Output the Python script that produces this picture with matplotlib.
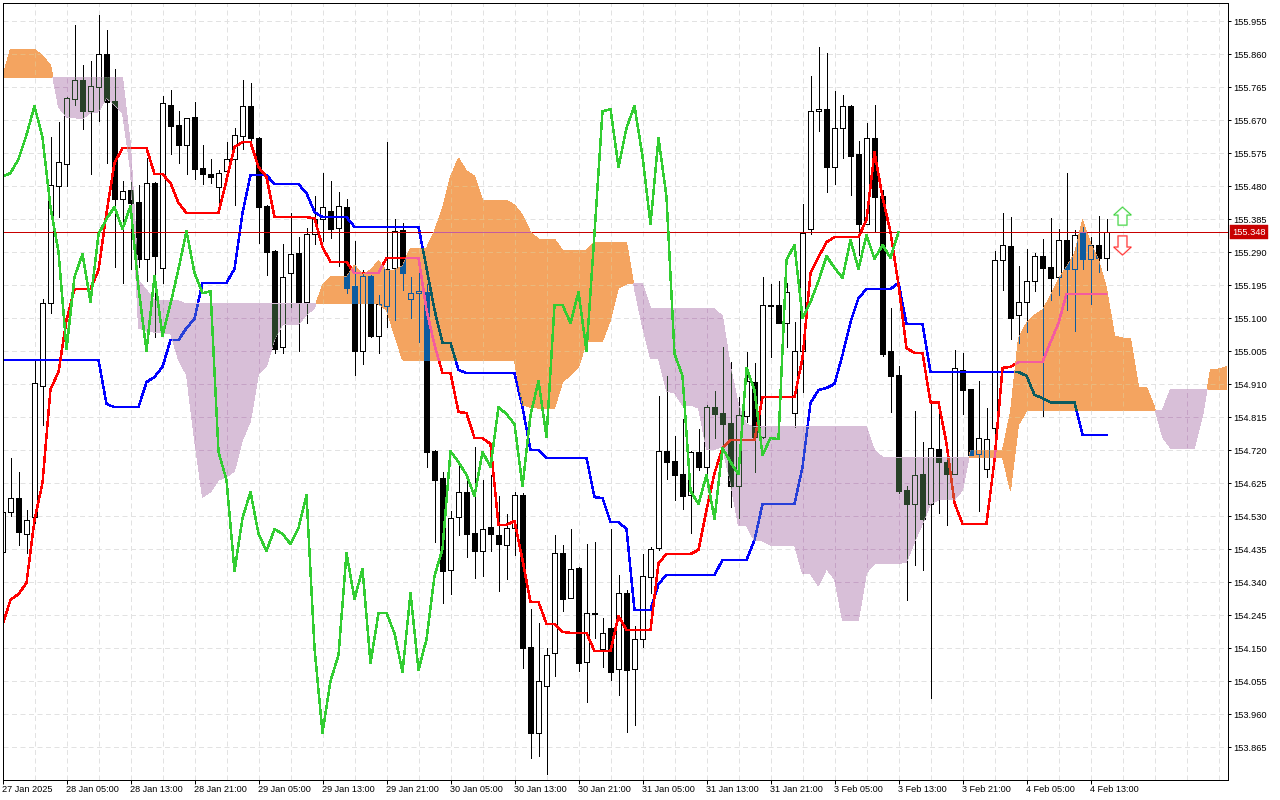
import numpy as np
import matplotlib
matplotlib.use("Agg")
import matplotlib.pyplot as plt
from matplotlib.colors import to_rgb
from matplotlib.path import Path
from matplotlib.patches import Polygon

open_ = [
154.427,154.542,154.582,154.479,154.528,154.905,155.144,155.481,155.544,155.731,
155.786,155.696,155.765,155.860,155.725,155.443,155.469,155.435,155.271,155.489,
155.245,155.714,155.657,155.599,155.680,155.533,155.515,155.478,155.524,155.558,
155.625,155.711,155.619,155.423,155.294,155.017,155.230,155.288,155.147,155.342,
155.386,155.409,155.360,155.420,155.193,155.006,155.222,155.049,155.135,155.245,
155.354,155.155,155.172,155.175,154.717,154.640,154.375,154.528,154.600,154.482,
154.430,154.499,154.476,154.447,154.496,154.591,154.153,153.906,154.041,154.136,
154.424,154.295,154.381,154.110,154.248,154.148,154.208,154.090,154.309,154.090,
154.176,154.355,154.439,154.717,154.689,154.651,154.591,154.715,154.672,154.844,
154.827,154.798,154.617,154.818,154.916,154.758,155.135,155.138,155.086,154.827,
155.006,155.357,155.696,155.702,155.535,155.648,155.711,155.573,155.371,155.619,
155.452,155.006,154.937,154.605,154.565,154.651,154.565,154.723,154.686,154.651,
154.951,154.896,154.709,154.666,154.784,155.268,155.308,155.109,155.147,155.207,
155.279,155.248,155.219,155.325,155.242,155.345,155.271,155.311,155.274]
high = [
154.563,154.697,154.657,154.548,154.980,155.155,155.622,155.665,155.737,155.944,
155.829,155.840,155.973,155.930,155.817,155.495,155.492,155.484,155.561,155.492,
155.740,155.757,155.696,155.677,155.722,155.599,155.558,155.527,155.607,155.648,
155.786,155.777,155.622,155.426,155.296,155.314,155.403,155.334,155.360,155.452,
155.518,155.495,155.463,155.443,155.322,155.239,155.225,155.167,155.607,155.386,
155.374,155.219,155.233,155.199,154.720,154.657,154.545,154.677,154.634,154.729,
154.634,154.648,154.589,154.536,154.600,154.597,154.263,154.222,154.150,154.476,
154.447,154.493,154.384,154.450,154.456,154.237,154.493,154.360,154.317,154.214,
154.421,154.441,154.876,154.934,154.761,154.810,154.717,154.781,154.850,154.890,
155.017,154.974,154.873,155.003,154.971,155.219,155.199,155.207,155.202,155.089,
155.429,155.797,155.881,155.863,155.754,155.743,155.714,155.610,155.662,155.714,
155.469,155.129,154.963,154.617,154.833,154.744,154.859,154.842,154.715,155.008,
155.000,154.896,154.919,154.842,155.293,155.403,155.391,155.250,155.299,155.288,
155.328,155.389,155.357,155.518,155.354,155.363,155.334,155.394,155.386]
low = [
154.424,154.531,154.447,154.424,154.510,154.793,155.115,155.391,155.481,155.714,
155.645,155.515,155.668,155.547,155.248,155.202,155.242,155.248,155.207,155.046,
155.202,155.573,155.547,155.515,155.501,155.487,155.489,155.432,155.501,155.426,
155.587,155.590,155.316,155.224,155.000,155.000,155.132,155.006,155.086,155.314,
155.322,155.331,155.250,155.172,154.937,154.968,155.046,155.000,155.075,155.095,
155.181,155.101,155.031,154.672,154.456,154.280,154.306,154.476,154.413,154.352,
154.358,154.430,154.314,154.349,154.418,154.093,153.834,153.840,153.788,154.070,
154.257,154.295,154.084,153.995,154.179,154.096,154.058,154.016,153.909,153.929,
154.153,154.309,154.433,154.637,154.577,154.551,154.482,154.663,154.626,154.755,
154.720,154.557,154.525,154.801,154.657,154.755,154.988,155.086,155.017,154.787,
154.887,155.342,155.639,155.463,155.487,155.561,155.455,155.282,155.371,155.348,
154.991,154.830,154.597,154.289,154.390,154.375,154.007,154.539,154.505,154.651,
154.824,154.706,154.545,154.643,154.755,155.181,155.040,155.028,155.060,155.178,
154.818,155.152,155.167,155.124,155.063,155.242,155.141,155.233,155.239]
close = [
154.542,154.582,154.484,154.519,154.913,155.144,155.484,155.549,155.734,155.786,
155.696,155.768,155.860,155.722,155.443,155.466,155.432,155.271,155.489,155.279,
155.720,155.654,155.599,155.677,155.530,155.515,155.507,155.518,155.558,155.628,
155.711,155.619,155.420,155.291,155.011,155.219,155.285,155.147,155.342,155.386,
155.420,155.357,155.423,155.187,155.006,155.222,155.049,155.141,155.242,155.351,
155.230,155.172,155.178,154.715,154.634,154.372,154.525,154.600,154.479,154.430,
154.493,154.479,154.450,154.496,154.591,154.150,153.906,154.056,154.130,154.424,
154.292,154.378,154.107,154.251,154.251,154.193,154.081,154.309,154.087,154.176,
154.358,154.436,154.717,154.686,154.649,154.588,154.715,154.672,154.844,154.824,
154.795,154.617,154.821,154.919,154.758,155.138,155.138,155.086,155.175,155.006,
155.345,155.696,155.702,155.535,155.648,155.711,155.567,155.371,155.619,155.449,
154.997,154.934,154.603,154.565,154.649,154.522,154.726,154.686,154.651,154.957,
154.893,154.706,154.755,154.752,155.268,155.311,155.101,155.147,155.207,155.279,
155.245,155.216,155.325,155.242,155.340,155.271,155.311,155.274,155.348]
tenkan = [
154.217,154.289,154.306,154.338,154.519,154.626,154.896,154.945,155.095,155.184,
155.184,155.184,155.239,155.403,155.547,155.590,155.590,155.590,155.590,155.515,
155.515,155.489,155.432,155.403,155.403,155.403,155.403,155.403,155.498,155.593,
155.607,155.607,155.535,155.507,155.391,155.391,155.391,155.391,155.391,155.388,
155.305,155.262,155.262,155.262,155.230,155.230,155.230,155.230,155.274,155.274,
155.274,155.274,155.274,155.124,155.023,154.942,154.942,154.830,154.827,154.755,
154.755,154.738,154.505,154.505,154.516,154.404,154.283,154.283,154.220,154.220,
154.197,154.194,154.194,154.194,154.142,154.142,154.142,154.243,154.202,154.202,
154.202,154.202,154.395,154.421,154.421,154.421,154.421,154.433,154.548,154.654,
154.726,154.749,154.749,154.749,154.749,154.873,154.873,154.873,154.873,154.873,
154.985,155.230,155.276,155.319,155.334,155.334,155.334,155.334,155.383,155.578,
155.449,155.348,155.196,155.014,155.000,155.000,154.858,154.858,154.740,154.568,
154.508,154.508,154.508,154.508,154.692,154.957,154.960,154.974,154.974,154.974,
154.974,155.031,155.086,155.170,155.170,155.170,155.170,155.170,155.170]
kijun = [
154.980,154.980,154.980,154.980,154.980,154.980,154.980,154.980,154.980,154.980,
154.980,154.980,154.980,154.853,154.844,154.844,154.844,154.844,154.916,154.931,
154.960,155.037,155.037,155.072,155.098,155.202,155.202,155.202,155.202,155.242,
155.403,155.512,155.512,155.512,155.486,155.486,155.486,155.486,155.460,155.406,
155.391,155.391,155.391,155.391,155.363,155.363,155.363,155.363,155.363,155.363,
155.363,155.363,155.363,155.245,155.124,155.029,155.029,154.951,154.942,154.942,
154.942,154.942,154.942,154.942,154.942,154.844,154.720,154.720,154.698,154.698,
154.698,154.698,154.698,154.698,154.585,154.582,154.513,154.513,154.493,154.260,
154.260,154.260,154.335,154.361,154.361,154.361,154.361,154.361,154.361,154.361,
154.404,154.404,154.404,154.404,154.461,154.565,154.565,154.565,154.565,154.565,
154.672,154.856,154.893,154.899,154.911,154.994,155.089,155.158,155.184,155.184,
155.184,155.184,155.202,155.083,155.083,155.083,154.945,154.945,154.945,154.945,
154.945,154.945,154.945,154.945,154.945,154.945,154.945,154.945,154.934,154.879,
154.870,154.858,154.858,154.858,154.858,154.764,154.764,154.764,154.764]
chikou = [
155.507,155.518,155.558,155.628,155.711,155.619,155.420,155.291,155.011,155.219,
155.285,155.147,155.342,155.386,155.420,155.357,155.423,155.187,155.006,155.222,
155.049,155.141,155.242,155.351,155.230,155.172,155.178,154.715,154.634,154.372,
154.525,154.600,154.479,154.430,154.493,154.479,154.450,154.496,154.591,154.150,
153.906,154.056,154.130,154.424,154.292,154.378,154.107,154.251,154.251,154.193,
154.081,154.309,154.087,154.176,154.358,154.436,154.717,154.686,154.649,154.588,
154.715,154.672,154.844,154.824,154.795,154.617,154.821,154.919,154.758,155.138,
155.138,155.086,155.175,155.006,155.345,155.696,155.702,155.535,155.648,155.711,
155.567,155.371,155.619,155.449,154.997,154.934,154.603,154.565,154.649,154.522,
154.726,154.686,154.651,154.957,154.893,154.706,154.755,154.752,155.268,155.311,
155.101,155.147,155.207,155.279,155.245,155.216,155.325,155.242,155.340,155.271,
155.311,155.274,155.348]
span_a = [
155.794,155.875,155.875,155.875,155.875,155.855,155.829,155.708,155.679,155.677,
155.674,155.691,155.694,155.734,155.714,155.691,155.527,155.072,155.063,155.060,
155.057,155.057,154.980,154.937,154.749,154.585,
154.600,154.634,154.643,154.660,154.749,154.804,154.939,154.962,155.037,155.083,
155.083,155.083,155.109,155.129,155.196,155.219,155.219,155.219,155.253,155.225,
155.239,155.265,155.236,155.239,155.250,155.302,155.302,155.302,155.351,155.417,
155.507,155.561,155.524,155.509,155.440,155.440,155.440,155.440,155.426,155.397,
155.348,155.328,155.328,155.328,155.296,155.296,155.296,155.296,155.319,155.319,
155.319,155.319,155.319,155.184,155.075,154.985,154.985,154.890,154.885,154.850,
154.850,154.841,154.723,154.723,154.729,154.626,154.502,154.502,154.459,154.459,
154.447,154.447,154.447,154.447,154.364,154.364,154.329,154.378,154.349,154.231,
154.231,154.231,154.367,154.393,154.393,154.393,154.393,154.398,154.456,154.508,
154.565,154.577,154.577,154.577,154.605,154.720,154.720,154.720,154.720,154.720,
154.830,155.043,155.086,155.109,155.124,155.164,155.213,155.248,155.285,155.383,
155.316,155.268,155.187,155.049,155.043,155.043,154.902,154.902,154.844,154.758,
154.726,154.726,154.726,154.726,154.818,154.951,154.954,154.960]
span_b = (
[155.794]*16 + [155.599,155.210,155.181,155.152,155.152,155.152,155.150] + [155.141]*25
+ [155.124,155.052,154.980] + [154.977]*14
+ [154.850,154.844,154.841,154.841,154.841,154.916,154.937,154.960,155.031,155.034,155.034,
   155.095,155.187,155.199,155.199,155.199,155.129] + [155.127]*8
+ [155.106,154.960,154.850,154.795] + [154.787]*15 + [154.720,154.700] + [154.698]*15
+ [154.605,154.793] + [154.833]*17 + [154.836] + [154.896]*8)

price_ticks = [153.865,153.960,154.055,154.150,154.245,154.340,154.435,154.530,154.625,154.720,
               154.815,154.910,155.005,155.100,155.195,155.290,155.385,155.480,155.575,155.670,
               155.765,155.860,155.955]
time_labels = ["27 Jan 2025","28 Jan 05:00","28 Jan 13:00","28 Jan 21:00","29 Jan 05:00","29 Jan 13:00",
               "29 Jan 21:00","30 Jan 05:00","30 Jan 13:00","30 Jan 21:00","31 Jan 05:00","31 Jan 13:00",
               "31 Jan 21:00","3 Feb 05:00","3 Feb 13:00","3 Feb 21:00","4 Feb 05:00","4 Feb 13:00"]
last_price = 155.348

plt.rcParams['font.family'] = ['Liberation Sans', 'DejaVu Sans']
W, H = 1280, 800
fig = plt.figure(figsize=(W/100, H/100), dpi=100, facecolor='white')
ax = fig.add_axes([2.5/W, (H-779.5)/H, 1225/W, 777/H])
PX = 0.72
LINE = 1.05
bar_x = np.arange(len(close))
cloud_x = np.arange(len(span_a))
o, h, l, c = map(np.array, (open_, high, low, close))
A, B = np.array(span_a), np.array(span_b)
ax.set_xlim(0, 1225/8)
ax.set_ylim(153.772, 156.009)

ORANGE, THISTLE = '#F4A460', '#D8BFD8'
GRID, PRICE_RED = '#E2E2E2', '#C80000'
grid_v = np.arange(4, 153, 4)

def identity(col):
    return to_rgb(col)

def xor_with(cloud):
    inv = [255 - round(v*255) for v in to_rgb(cloud)]
    def f(col):
        return tuple((round(v*255) ^ i)/255 for v, i in zip(to_rgb(col), inv))
    return f

def layer(mod, z, clip=None):
    arts = []
    dash = (0, (5, 3.5))
    arts.append(ax.hlines(price_ticks, 0, 1225/8, colors=[mod(GRID)], linewidth=PX, linestyles=[dash], zorder=z))
    arts.append(ax.vlines(grid_v, 153.772, 156.009, colors=[mod(GRID)], linewidth=PX, linestyles=[dash], zorder=z))
    arts.append(ax.vlines(bar_x, l, h, colors=[mod('black')], linewidth=PX, antialiased=False, zorder=z+0.1))
    up = c >= o
    barsu = ax.bar(bar_x[up], (c-o)[up], bottom=o[up], width=0.56, facecolor=mod('white'),
                   edgecolor=mod('black'), linewidth=PX, antialiased=False, zorder=z+0.2)
    barsd = ax.bar(bar_x[~up], (c-o)[~up], bottom=o[~up], width=0.56, facecolor=mod('black'),
                   edgecolor=mod('black'), linewidth=PX, antialiased=False, zorder=z+0.2)
    arts += list(barsu) + list(barsd)
    arts += ax.plot(bar_x, kijun, color=mod('#0000FF'), lw=LINE, antialiased=False, zorder=z+0.3)
    arts += ax.plot(bar_x, tenkan, color=mod('#FF0000'), lw=LINE, antialiased=False, zorder=z+0.4)
    arts.append(ax.axhline(last_price, color=mod(PRICE_RED), lw=PX, antialiased=False, zorder=z+0.5))
    if clip is not None:
        for a in arts:
            a.set_clip_path(clip, ax.transData)

layer(identity, 1)
orange = ax.fill_between(cloud_x, A, B, where=A >= B, interpolate=True, facecolor=ORANGE,
                         edgecolor='none', antialiased=False, zorder=5)
purple = ax.fill_between(cloud_x, A, B, where=A < B, interpolate=True, facecolor=THISTLE,
                         edgecolor='none', antialiased=False, zorder=5)
layer(xor_with(ORANGE), 6, Path.make_compound_path(*orange.get_paths()))
layer(xor_with(THISTLE), 7, Path.make_compound_path(*purple.get_paths()))
ax.plot(np.arange(len(chikou)), chikou, color='#32CD32', lw=LINE, antialiased=False, zorder=9)

# signal arrows at bar 140
arrow_bar = 140
up_shape = [(0, 155.420), (1.1, 155.397), (0.56, 155.397), (0.56, 155.368),
            (-0.56, 155.368), (-0.56, 155.397), (-1.1, 155.397)]
down_shape = [(0, 155.282), (1.1, 155.305), (0.56, 155.305), (0.56, 155.337),
              (-0.56, 155.337), (-0.56, 155.305), (-1.1, 155.305)]
for shape, pale, strong in ((up_shape, '#C8F5C8', '#32CD32'), (down_shape, '#FFC0C0', '#FF2020')):
    pts = [(arrow_bar + dx, p) for dx, p in shape]
    ax.add_patch(Polygon(pts, closed=True, facecolor='white', edgecolor=pale, lw=2*PX, zorder=10))
    ax.add_patch(Polygon(pts, closed=True, facecolor='none', edgecolor=strong, lw=0.8*PX, zorder=10.1))

for s in ax.spines.values():
    s.set_linewidth(PX)
    s.set_color('black')
    s.set_zorder(20)
ax.yaxis.tick_right()
ax.set_yticks(price_ticks)
ax.set_yticklabels([f"{p:.3f}" for p in price_ticks])
ax.set_xticks(np.arange(0, 8*len(time_labels), 8))
ax.set_xticklabels(time_labels)
for lab in ax.get_xticklabels():
    lab.set_ha('left')
ax.tick_params(axis='y', direction='out', length=3*PX, width=PX, pad=2.0, labelsize=6.7, labelcolor='black')
ax.tick_params(axis='x', direction='out', length=3.5*PX, width=PX, pad=1.6, labelsize=6.6, labelcolor='black')

ax.text(1.0 + 4.5/1225, last_price, f"{last_price:.3f}", transform=ax.get_yaxis_transform(),
        ha='left', va='center', fontsize=6.7, color='white', zorder=30, clip_on=False,
        bbox=dict(boxstyle='square,pad=0.26', facecolor='#C80000', edgecolor='#C80000', lw=0.3))

fig.savefig('out.png', dpi=100, facecolor='white')
